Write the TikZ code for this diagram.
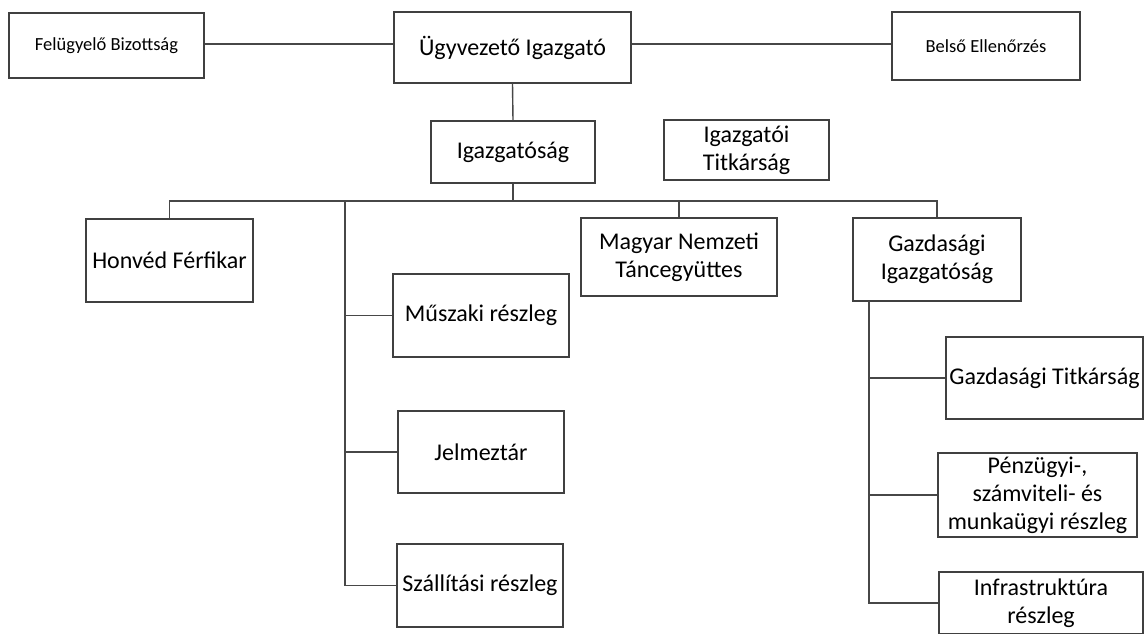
\documentclass[tikz,border=0pt]{standalone}
\usepackage{fontspec}
\setmainfont{Carlito}
\begin{document}
\begin{tikzpicture}[x=1pt,y=-1pt,
  box/.style={draw=black!75, line width=1.4pt, inner sep=0pt, align=center,
    font=\fontsize{24}{28}\selectfont, text=black},
  smallbox/.style={box, font=\fontsize{18.5}{21}\selectfont},
  conn/.style={draw=black!72, line width=1.4pt}]
\useasboundingbox (0,0) rectangle (1145,633);
\clip (0,0) rectangle (1145,633);
\fill[white] (0,0) rectangle (1145,633);

% top row
\node[smallbox, minimum width=195, minimum height=65] (FB) at (106.5,45.5) {Felügyelő Bizottság};
\node[box, minimum width=237, minimum height=71] (UI) at (512.5,47.5) {Ügyvezető Igazgató};
\node[smallbox, minimum width=188, minimum height=68] (BE) at (986,46) {Belső Ellenőrzés};

% second row
\node[box, minimum width=164, minimum height=62] (IG) at (513,152) {Igazgatóság};
\node[box, minimum width=165, minimum height=60] (IT) at (746.5,150) {Igazgatói\\Titkárság};

% third row
\node[box, minimum width=167, minimum height=83] (HF) at (169.5,260.5) {Honvéd Férfikar};
\node[box, minimum width=196, minimum height=78] (MN) at (679,257) {Magyar Nemzeti\\Táncegyüttes};
\node[box, minimum width=168, minimum height=83] (GI) at (937,259.5) {Gazdasági\\Igazgatóság};

% left column
\node[box, minimum width=176, minimum height=83] (MU) at (481,315.5) {Műszaki részleg};
\node[box, minimum width=166, minimum height=82] (JE) at (481,452) {Jelmeztár};
\node[box, minimum width=166, minimum height=83] (SZ) at (480,585.5) {Szállítási részleg};

% right column
\node[box, minimum width=197, minimum height=82] (GT) at (1044.5,378) {Gazdasági Titkárság};
\node[box, minimum width=199, minimum height=84] (PE) at (1037.5,495) {Pénzügyi-,\\számviteli- és\\munkaügyi részleg};
\node[box, minimum width=204, minimum height=62] (IN) at (1041,603) {Infrastruktúra\\részleg};

% connectors
\coordinate (top) at (512.5,44);
\draw[conn] (top -| FB.east) -- (top -| UI.west);
\draw[conn] (top -| UI.east) -- (top -| BE.west);
\draw[conn] (UI.south) -- (IG.north);

\coordinate (bus) at (513,201);
\draw[conn] (IG.south) -- (bus);
\draw[conn] (HF.north) -- (HF.north |- bus) -- (GI.north |- bus) -- (GI.north);
\draw[conn] (MN.north) -- (MN.north |- bus);

\coordinate (lt) at (345,201);
\draw[conn] (lt) |- (SZ.west);
\draw[conn] (lt |- MU.west) -- (MU.west);
\draw[conn] (lt |- JE.west) -- (JE.west);

\coordinate (rt) at (869,301);
\draw[conn] (rt) |- (IN.west);
\draw[conn] (rt |- GT.west) -- (GT.west);
\draw[conn] (rt |- PE.west) -- (PE.west);
\end{tikzpicture}
\end{document}
